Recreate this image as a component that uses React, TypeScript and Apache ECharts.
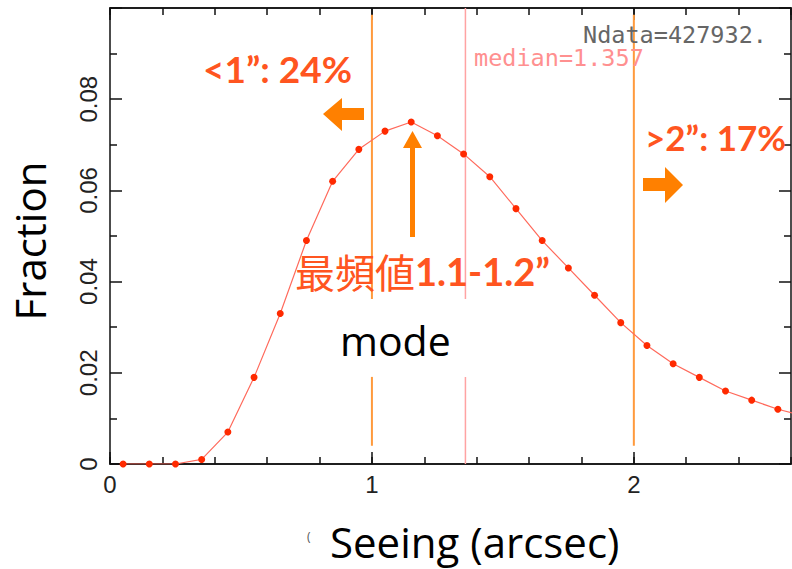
import React, { useEffect, useRef } from "react";
import * as echarts from "echarts";

// Seeing bins (arcsec, bin centres) and the fraction in each bin
const seeingBins = [0.05, 0.15, 0.25, 0.35, 0.45, 0.55, 0.65, 0.75, 0.85, 0.95, 1.05, 1.15, 1.25, 1.35, 1.45, 1.55, 1.65, 1.75, 1.85, 1.95, 2.05, 2.15, 2.25, 2.35, 2.45, 2.55, 2.65];
const fractions = [0, 0, 0, 0.001, 0.007, 0.019, 0.033, 0.049, 0.062, 0.069, 0.073, 0.075, 0.072, 0.068, 0.063, 0.056, 0.049, 0.043, 0.037, 0.031, 0.026, 0.022, 0.019, 0.016, 0.014, 0.012, 0.0105];

// Reference lines
const cutLines = [1, 2];
const medianValue = 1.357;
const cutSpan = [0.004, 0.0985];
const gapSpan = [0.0191, 0.0362];

// Axis ranges
const xRange = [0, 2.6];
const yRange = [0, 0.1];

// Annotation texts
const ndataText = "Ndata=427932.";
const medianText = "median=1.357";
const lowText = "<1”: 24%";
const highText = ">2”: 17%";
const modeJa = "最頻値";
const modeRange = "1.1-1.2”";
const modeEn = "mode";
const xTitle = "Seeing (arcsec)";
const yTitle = "Fraction";

const AX = "#111";
const ORANGE_TXT = "#ff5520";
const ARROW = "#ff8000";

function seg(x: number, y0: number, y1: number, color: string, width: number) {
  return {
    type: "line",
    data: [[x, y0], [x, y1]],
    showSymbol: false,
    symbol: "none",
    silent: true,
    z: 1,
    lineStyle: { color, width },
  };
}

export default function App() {
  const ref = useRef<HTMLDivElement>(null);
  useEffect(() => {
    if (!ref.current) return;
    const chart = echarts.init(ref.current, undefined, { renderer: "svg" });
    const xBase = {
      type: "value",
      min: xRange[0],
      max: xRange[1],
      splitLine: { show: false },
      axisLine: { onZero: false, lineStyle: { color: AX, width: 1.5 } },
    };
    const tickMajor = { inside: true, length: 12, lineStyle: { color: AX, width: 1.5 } };
    const tickMinor = { inside: true, length: 7, lineStyle: { color: AX, width: 1.5 } };
    const yBase = {
      type: "value",
      min: yRange[0],
      max: yRange[1],
      interval: 0.02,
      splitLine: { show: false },
      axisLine: { onZero: false, lineStyle: { color: AX, width: 1.5 } },
      axisTick: tickMajor,
      minorTick: { show: true, splitNumber: 2, length: 7, lineStyle: { color: AX, width: 1.5 } },
    };
    const curveData = seeingBins.map((x, i) => [x, fractions[i]]);
    const series: any[] = [];
    cutLines.forEach((c, i) => {
      if (i === 0) {
        series.push(seg(c, cutSpan[0], gapSpan[0], "#ff9a3c", 2));
        series.push(seg(c, gapSpan[1], cutSpan[1], "#ff9a3c", 2));
      } else {
        series.push(seg(c, cutSpan[0], cutSpan[1], "#ff9a3c", 2));
      }
    });
    series.push(seg(medianValue, yRange[0], gapSpan[0], "#ffa3a3", 1.5));
    series.push(seg(medianValue, gapSpan[1], yRange[1], "#ffa3a3", 1.5));
    series.push({
      type: "line",
      data: curveData,
      symbol: "circle",
      symbolSize: 7,
      clip: true,
      z: 5,
      itemStyle: { color: "#ff2a00" },
      lineStyle: { color: "#ff6a5c", width: 1.2 },
    });

    chart.setOption({
      animation: false,
      grid: { left: 110, right: 1, top: 8, bottom: 105 },
      xAxis: [
        {
          ...xBase,
          position: "bottom",
          interval: 1,
          axisTick: tickMajor,
          axisLabel: {
            show: true,
            margin: 8,
            fontSize: 24,
            color: "#222",
            fontFamily: "Liberation Sans",
            showMaxLabel: false,
            formatter: (v: number) => String(v),
          },
        },
        { ...xBase, position: "bottom", interval: 0.2, axisTick: tickMinor, axisLabel: { show: false } },
        { ...xBase, position: "top", interval: 1, axisTick: tickMajor, axisLabel: { show: false } },
        { ...xBase, position: "top", interval: 0.2, axisTick: tickMinor, axisLabel: { show: false } },
      ],
      yAxis: [
        {
          ...yBase,
          position: "left",
          axisLabel: {
            show: true,
            rotate: 90,
            margin: 10,
            fontSize: 24,
            color: "#222",
            fontFamily: "Liberation Sans",
            formatter: (v: number) => (v >= 0.0999 ? "" : String(+v.toFixed(2))),
          },
        },
        { ...yBase, position: "right", axisLabel: { show: false } },
      ],
      series,
      graphic: [
        {
          type: "text", z: 100, left: 583, top: 23,
          style: { text: ndataText, fontFamily: "DejaVu Sans Mono", fontSize: 23.5, fill: "#666" },
        },
        {
          type: "text", z: 100, left: 474, top: 46,
          style: { text: medianText, fontFamily: "DejaVu Sans Mono", fontSize: 23.5, fill: "#ff9090" },
        },
        {
          type: "text", z: 100, x: 203, y: 68,
          style: { text: lowText, fontFamily: "Lato", fontWeight: "bold", fontSize: 37, fill: ORANGE_TXT, verticalAlign: "middle" },
        },
        {
          type: "text", z: 100, x: 645, y: 137,
          style: { text: highText, fontFamily: "Lato", fontWeight: "bold", fontSize: 35, fill: ORANGE_TXT, verticalAlign: "middle" },
        },
        {
          type: "text", z: 100, x: 295, y: 271,
          style: {
            text: "{a|" + modeJa + "}{b|" + modeRange + "}",
            verticalAlign: "middle",
            rich: {
              a: { fontFamily: "Noto Sans CJK JP", fontSize: 40, fill: ORANGE_TXT, color: ORANGE_TXT },
              b: { fontFamily: "Lato", fontWeight: "bold", fontSize: 38, fill: ORANGE_TXT, color: ORANGE_TXT },
            },
          },
        },
        {
          type: "text", z: 100, x: 340, y: 340,
          style: { text: modeEn, fontFamily: "Open Sans", fontSize: 41, fill: "#000", verticalAlign: "middle" },
        },
        {
          type: "text", z: 100, x: 330, y: 541,
          style: { text: xTitle, fontFamily: "Open Sans", fontSize: 42, lineHeight: 44, fill: "#000", verticalAlign: "middle" },
        },
        {
          type: "text", z: 100, x: 307, y: 536,
          style: { text: "(", fontFamily: "Open Sans", fontSize: 12, fill: "#555", verticalAlign: "middle" },
        },
        {
          type: "text", z: 100, x: 29, y: 241, rotation: Math.PI / 2,
          style: { text: yTitle, fontFamily: "Open Sans", fontSize: 42, fill: "#000", align: "center", verticalAlign: "middle" },
        },
        {
          type: "polygon", z: 100,
          shape: { points: [[323, 114], [342, 98], [342, 108], [364, 108], [364, 120], [342, 120], [342, 131]] },
          style: { fill: ARROW },
        },
        {
          type: "polygon", z: 100,
          shape: { points: [[643, 178], [665, 178], [665, 167], [683, 185], [665, 203], [665, 191], [643, 191]] },
          style: { fill: ARROW },
        },
        {
          type: "polygon", z: 100,
          shape: { points: [[412.5, 131], [422, 148], [415, 148], [415, 237], [410, 237], [410, 148], [403, 148]] },
          style: { fill: ARROW },
        },
      ],
    });
    return () => chart.dispose();
  }, []);
  return (
    <div
      ref={ref}
      style={{ position: "fixed", left: 0, top: 0, width: 792, height: 569, background: "#fff" }}
    />
  );
}
